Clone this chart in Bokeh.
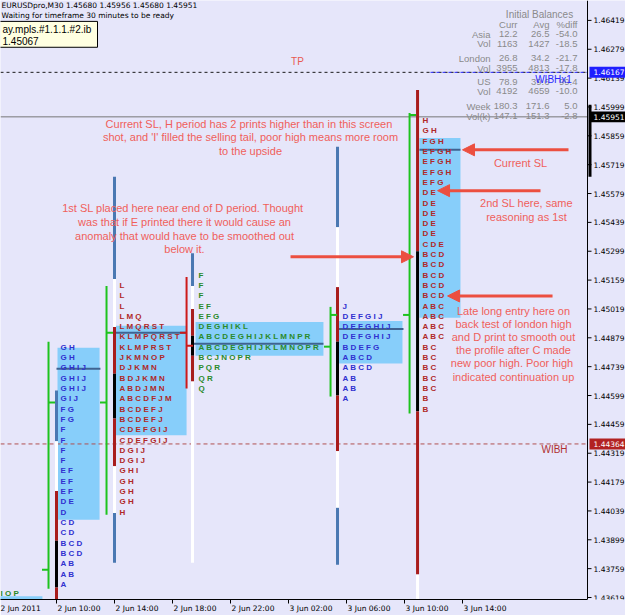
from bokeh.plotting import figure
from bokeh.models import (Range1d, LinearAxis, FixedTicker, Arrow, NormalHead, AllLabels)
from bokeh.core.properties import value
from bokeh.embed import file_html
from bokeh.resources import INLINE

# ============================ data ============================
header_line = "EURUSDpro,M30  1.45680 1.45956 1.45680 1.45951"
status_line = "Waiting for timeframe 30 minutes to be ready"
tooltip_lines = ["ay.mpls.#1.1.1.#2.ib", "1.45067"]

price_ticks = [1.46419, 1.46279, 1.46139, 1.45999, 1.45859, 1.45719, 1.45579,
               1.45439, 1.45299, 1.45159, 1.45019, 1.44879, 1.44739, 1.44599,
               1.44459, 1.44319, 1.44179, 1.44039, 1.43899, 1.43759, 1.43619]
time_ticks = [6, 10, 14, 18, 22, 26, 30, 34, 38]          # hours after 2 Jun 00:00
time_labels = ["2 Jun 2011", "2 Jun 10:00", "2 Jun 14:00", "2 Jun 18:00", "2 Jun 22:00",
               "3 Jun 02:00", "3 Jun 06:00", "3 Jun 10:00", "3 Jun 14:00"]

last_price = 1.45951
wibh_x1_level = 1.46167
wibh_level = 1.44364
axis_bar_high = 1.46010
axis_bar_low = 1.45660

tpo_size = 0.0005

# session OHLC bars
sess_bar_t = [9.45, 13.45, 18.97, 28.90, 34.35]
sess_open = [1.43754, 1.44565, 1.44903, 1.44836, 1.44990]
sess_high = [1.44860, 1.45130, 1.45174, 1.45029, 1.45970]
sess_low = [1.43662, 1.44020, 1.44633, 1.44594, 1.44512]
sess_close = [1.44565, 1.44903, 1.44840, 1.44990, 1.45960]

# TPO letters
tpo_t = [10.28, 14.345, 19.79, 29.72, 35.24]
tpo_top = [1.44833, 1.45133, 1.45183, 1.45033, 1.45933]
tpo_rows = [
    ["GH", "GH", "GHIJ", "GHIJ", "GHIJ", "GIJ", "FG", "FG", "F", "F", "F", "F", "EF", "EF",
     "EF", "DE", "D", "CD", "CD", "BCD", "BCD", "AB", "AB", "A"],
    ["L", "L", "L", "LMQ", "LMQRST", "KLMPQRST", "KLMPRST", "JKMNOP", "DJKMN", "BDJKMN",
     "ABDJMN", "ABCDFJM", "BCDEFJ", "BCDEFJ", "CDEFGIJ", "CDEFGIJ", "DGIJ", "DGIJ", "GHI",
     "GH", "GH", "GH", "H"],
    ["F", "F", "F", "EF", "EFG", "DEGHIKL", "ABCDEGHIJKLMNPR", "ABCDEGHIJKLMNOPR",
     "BCJNOPR", "PQR", "QR", "Q"],
    ["J", "DEFGIJ", "DEFGHIJ", "DEFGHIJ", "BDEFG", "ABCD", "ABCD", "AB", "AB", "A"],
    ["H", "GH", "FGH", "EFGH", "EFGH", "EFGH", "EFG", "DE", "DE", "DE", "DE", "DE", "CDE",
     "BCD", "BCD", "BCD", "BCD", "BCD", "ABC", "ABC", "ABC", "ABC", "BC", "BC", "BC", "BC",
     "BC", "B", "B"],
]
prev_tpo_t = 6.14
prev_tpo_price = 1.43640
prev_tpo_row = "IOP"

# value areas and POC
va_t0 = [10.07, 14.07, 19.59, 29.38, 35.03]
va_t1 = [12.97, 18.97, 28.41, 33.86, 37.86]
va_high = [1.44831, 1.44937, 1.44956, 1.44961, 1.45849]
va_low = [1.43996, 1.44406, 1.44792, 1.44754, 1.44976]
prev_va = [6.00, 9.03, 1.43625, 1.43550]
poc_t0 = [10.00, 14.07, 19.38, 29.38, 35.03]
poc_t1 = [13.03, 18.97, 28.41, 33.93, 37.86]
poc_price = [1.44729, 1.44903, 1.44850, 1.44922, 1.45791]

# deviation bands drawn as a vertical multi-coloured line per session
stat_t = [10.00, 14.00, 19.38, 29.38, 34.90]
stat_bands = [
    [(1.44623, 1.44377, "outer"), (1.44377, 1.44136, "mid"), (1.44136, 1.43894, "inner"),
     (1.43894, 1.43667, "core"), (1.43667, 1.43550, "inner")],
    [(1.45661, 1.45164, "outer"), (1.45164, 1.44932, "mid"), (1.44932, 1.44705, "inner"),
     (1.44705, 1.44488, "core"), (1.44488, 1.44256, "inner"), (1.44256, 1.44029, "mid"),
     (1.44029, 1.43788, "outer")],
    [(1.45289, 1.45130, "outer"), (1.45130, 1.45019, "mid"), (1.45019, 1.44889, "inner"),
     (1.44889, 1.44792, "core"), (1.44792, 1.44667, "inner"), (1.44667, 1.43788, "mid")],
    [(1.45806, 1.45415, "outer"), (1.45415, 1.45125, "mid"), (1.45125, 1.44860, "inner"),
     (1.44860, 1.44599, "core"), (1.44599, 1.44329, "inner"), (1.44329, 1.44054, "mid"),
     (1.44054, 1.43778, "outer")],
    [(1.46081, 1.45299, "inner"), (1.45299, 1.44522, "core"), (1.44522, 1.43730, "inner"),
     (1.43730, 1.43550, "mid")],
]

# initial balance table
ib_title = "Initial Balances"
ib_headers = ["Curr", "Avg", "%diff"]
ib_rows = ["Asia", "Vol", "London", "Vol", "US", "Vol", "Week", "Vol(k)"]
ib_curr = ["12.2", "1163", "26.8", "3955", "78.9", "4192", "180.3", "147.1"]
ib_avg = ["26.5", "1427", "34.2", "4813", "39.6", "4659", "171.6", "151.3"]
ib_diff = ["-54.0", "-18.5", "-21.7", "-17.8", "99.4", "-10.0", "5.0", "-2.8"]

# notes and arrows (tail time, tail price, head time, head price)
note_current_sl = ["Current SL,  H period has 2 prints higher than in this screen",
                   "shot, and 'I' filled the selling tail, poor high means more room",
                   "to the upside"]
note_first_sl = ["1st SL placed here near end of D period.  Thought",
                 "was that if E printed there it would cause an",
                 "anomaly that would have to be smoothed out",
                 "below it."]
note_current_label = ["Current SL"]
note_second_sl = ["2nd SL here, same", "reasoning as 1st"]
note_late_long = ["Late long entry here on", "back test of london high",
                  "and D print to smooth out", "the profile after C made",
                  "new poor high.  Poor high", "indicated continuation up"]
arrows = [(45.31, 1.45791, 38.00, 1.45791),
          (43.38, 1.45593, 36.28, 1.45593),
          (26.14, 1.45272, 34.62, 1.45272),
          (44.21, 1.45082, 36.97, 1.45082)]

# ============================ view ============================
BG = "#E6E6FA"
W, H = 625, 615
FH = 602          # frame height (bottom axis below it)
AX = 587          # pixel column of the price scale
T_LEFT, PX_H = 6.138, 14.5
P_REF, Y_REF, PX_P = 1.46419, 20.0, 20714.0


def tx(px):
    return T_LEFT + px / PX_H


def py(px):
    return P_REF - (px - Y_REF) / PX_P


def dp(px):
    return px / PX_P


p = figure(width=W, height=H, x_range=Range1d(tx(0), tx(W)),
           y_range=Range1d(py(FH), py(0)), y_axis_location=None,
           toolbar_location=None, output_backend="svg", min_border=0,
           background_fill_color=BG, border_fill_color=BG, outline_line_color=None)
p.xgrid.visible = False
p.ygrid.visible = False

# bottom axis: ticks only, then a label-only axis offset right of each tick
xa = p.xaxis[0]
xa.ticker = FixedTicker(ticks=time_ticks)
xa.bounds = (tx(0), tx(AX))
xa.major_label_overrides = {t: "" for t in time_ticks}
xa.major_label_text_font_size = "0px"
xa.major_label_standoff = 0
xa.major_tick_out = 4
xa.major_tick_in = 0
xa.minor_tick_out = 0
xa.minor_tick_in = 0
xa.axis_line_color = "black"
xa.major_tick_line_color = "black"

label_offsets = [1.24, 1.55, 1.55, 1.55, 1.55, 1.55, 1.55, 1.55, 1.55]
label_pos = [t + o for t, o in zip(time_ticks, label_offsets)]
xl = LinearAxis(ticker=FixedTicker(ticks=label_pos),
                major_label_overrides={lp: lab for lp, lab in zip(label_pos, time_labels)},
                axis_line_color=None, major_tick_line_color=None, minor_tick_line_color=None,
                major_tick_out=0, major_tick_in=0, minor_tick_out=0, minor_tick_in=0,
                major_label_standoff=0, major_label_text_font_size="7.5px",
                major_label_text_font="DejaVu Sans", major_label_text_color="black",
                major_label_policy=AllLabels())
p.add_layout(xl, "below")

VA_FILL = "#87CEFA"
POC_COL = "#3f6391"
LETTER_COLS = ["#3030d0", "#b02828", "#2a8a2a", "#3030d0", "#b02828"]
STAT_COLS = {"outer": "#4a78b2", "mid": "#ffffff", "inner": "#a81c1c", "core": "#000000"}
NOTE_COL = "#F0605A"
ARROW_COL = "#EC4F40"

# value areas
p.quad(left=va_t0, right=va_t1, top=va_high, bottom=va_low,
       fill_color=VA_FILL, line_color=None)
p.quad(left=[prev_va[0]], right=[prev_va[1]], top=[prev_va[2]], bottom=[prev_va[3]],
       fill_color=VA_FILL, line_color=None)

# reference levels (end at the price scale)
p.segment(x0=[tx(0)], y0=[wibh_x1_level], x1=[tx(AX)], y1=[wibh_x1_level],
          line_color="#1a1a1a", line_dash="3 3", line_width=1)
p.segment(x0=[tx(430)], y0=[wibh_x1_level], x1=[tx(AX)], y1=[wibh_x1_level],
          line_color="#2a2aff", line_dash="3 3", line_width=1)
p.segment(x0=[tx(0)], y0=[wibh_level], x1=[tx(AX)], y1=[wibh_level],
          line_color="#b05050", line_dash="4 3", line_width=1)
p.segment(x0=[tx(0)], y0=[last_price], x1=[tx(AX)], y1=[last_price],
          line_color="#787878", line_width=1)

# POC lines
p.segment(x0=poc_t0, y0=poc_price, x1=poc_t1, y1=poc_price,
          line_color=POC_COL, line_width=2)

# TPO letters
lx, ly, lt, lc = [], [], [], []
for s, rows in enumerate(tpo_rows):
    for i, row in enumerate(rows):
        lx.append(tpo_t[s])
        ly.append(tpo_top[s] - i * tpo_size)
        lt.append(" ".join(row))
        lc.append(LETTER_COLS[s])
lx.append(prev_tpo_t)
ly.append(prev_tpo_price)
lt.append(" ".join(prev_tpo_row))
lc.append("#2a8a2a")
p.text(x=lx, y=ly, text=lt, text_color=lc, text_font=value("Liberation Sans"),
       text_font_style="bold", text_font_size="8px", text_baseline="middle",
       text_align="left")

# band lines
sx, s0, s1, sc = [], [], [], []
for s, bands in enumerate(stat_bands):
    for top, bot, kind in bands:
        sx.append(stat_t[s])
        s0.append(top)
        s1.append(bot)
        sc.append(STAT_COLS[kind])
p.segment(x0=sx, y0=s0, x1=sx, y1=s1, line_color=sc, line_width=3)

# session OHLC bars
TICK = 0.45
bar_cols = ["#1ec31e" if c >= o else "#cc1a1a" for o, c in zip(sess_open, sess_close)]
p.segment(x0=sess_bar_t, y0=sess_high, x1=sess_bar_t, y1=sess_low,
          line_color=bar_cols, line_width=2)
p.segment(x0=[t - TICK for t in sess_bar_t], y0=sess_open, x1=sess_bar_t, y1=sess_open,
          line_color=bar_cols, line_width=2)
p.segment(x0=sess_bar_t, y0=sess_close, x1=[t + TICK for t in sess_bar_t], y1=sess_close,
          line_color=bar_cols, line_width=2)

# header + tooltip
p.text(x=[tx(1), tx(1)], y=[py(5), py(15)], text=[header_line, status_line],
       text_color="black", text_font=value("DejaVu Sans"), text_font_size="7.5px",
       text_baseline="middle", text_align="left")
p.quad(left=[tx(-1)], right=[tx(97)], top=[py(21)], bottom=[py(47)],
       fill_color="#FFFFE1", line_color="black", line_width=1)
p.text(x=[tx(2), tx(2)], y=[py(29.5), py(40.5)], text=tooltip_lines, text_color="black",
       text_font=value("Liberation Sans"), text_font_size="10px",
       text_baseline="middle", text_align="left")

# initial balance table
TG = "#8a8a8a"
row_y = [34, 43.5, 58, 68, 81.5, 91, 106.5, 116.5]
tx_l, ty_l, tt_l = [], [], []
for cx, col in [(490, ib_rows), (517, ib_curr), (549, ib_avg), (577, ib_diff)]:
    for yy, s in zip(row_y, col):
        tx_l.append(tx(cx))
        ty_l.append(py(yy))
        tt_l.append(s)
for cx, s in zip([517, 549, 577], ib_headers):
    tx_l.append(tx(cx))
    ty_l.append(py(24))
    tt_l.append(s)
p.text(x=tx_l, y=ty_l, text=tt_l, text_color=TG, text_font=value("Liberation Sans"),
       text_font_size="9.5px", text_baseline="middle", text_align="right")
p.text(x=[tx(539)], y=[py(14)], text=[ib_title], text_color=TG,
       text_font=value("Liberation Sans"), text_font_size="10px",
       text_baseline="middle", text_align="center")

# level labels
p.text(x=[tx(297)], y=[py(61)], text=["TP"], text_color="#E85A50",
       text_font=value("Liberation Sans"), text_font_size="10px",
       text_baseline="middle", text_align="center")
p.text(x=[tx(553)], y=[py(79)], text=["WIBHx1"], text_color="#2a2aff",
       text_font=value("Liberation Sans"), text_font_size="10px",
       text_baseline="middle", text_align="center")
p.text(x=[tx(554)], y=[py(451)], text=["WIBH"], text_color="#b03030",
       text_font=value("Liberation Sans"), text_font_size="10px",
       text_baseline="middle", text_align="center")

# notes
nx, ny, nt = [], [], []
for lines, cx, y0, step in [(note_current_sl, 250, 124, 13.5),
                            (note_first_sl, 184, 209, 13.7),
                            (note_current_label, 520, 163, 13),
                            (note_second_sl, 526, 204, 14),
                            (note_late_long, 513, 312, 13.2)]:
    for i, s in enumerate(lines):
        nx.append(tx(cx))
        ny.append(py(y0 + i * step))
        nt.append(s)
p.text(x=nx, y=ny, text=nt, text_color=NOTE_COL, text_font=value("Liberation Sans"),
       text_font_size="11px", text_baseline="middle", text_align="center")

for t0, p0, t1, p1 in arrows:
    p.add_layout(Arrow(end=NormalHead(size=12, fill_color=ARROW_COL, line_color=ARROW_COL),
                       x_start=t0, y_start=p0, x_end=t1, y_end=p1,
                       line_color=ARROW_COL, line_width=3))

# ---------------- price scale (right) ----------------
p.segment(x0=[tx(AX)], y0=[py(0)], x1=[tx(AX)], y1=[py(FH)], line_color="black",
          line_width=1)
p.segment(x0=[tx(AX)] * len(price_ticks), y0=price_ticks,
          x1=[tx(AX + 4)] * len(price_ticks), y1=price_ticks,
          line_color="black", line_width=1)
p.text(x=[tx(AX + 6)] * len(price_ticks), y=price_ticks,
       text=["%.5f" % v for v in price_ticks], text_color="black",
       text_font=value("DejaVu Sans"), text_font_size="7.5px",
       text_baseline="middle", text_align="left")
# current bar range marker
p.quad(left=[tx(AX + 1)], right=[tx(AX + 4)], top=[axis_bar_high], bottom=[axis_bar_low],
       fill_color="black", line_color=None)
# highlighted price labels
hl_levels = [wibh_x1_level, last_price, wibh_level]
hl_cols = ["#1e1eff", "#000000", "#b22222"]
p.quad(left=[tx(AX + 2)] * 3, right=[tx(W)] * 3,
       top=[v + dp(5.5) for v in hl_levels], bottom=[v - dp(5.5) for v in hl_levels],
       fill_color=hl_cols, line_color=None)
p.text(x=[tx(AX + 6)] * 3, y=hl_levels, text=["%.5f" % v for v in hl_levels],
       text_color="white", text_font=value("DejaVu Sans"), text_font_size="7.5px",
       text_baseline="middle", text_align="left")

open("out.html", "w").write(file_html(p, INLINE))
